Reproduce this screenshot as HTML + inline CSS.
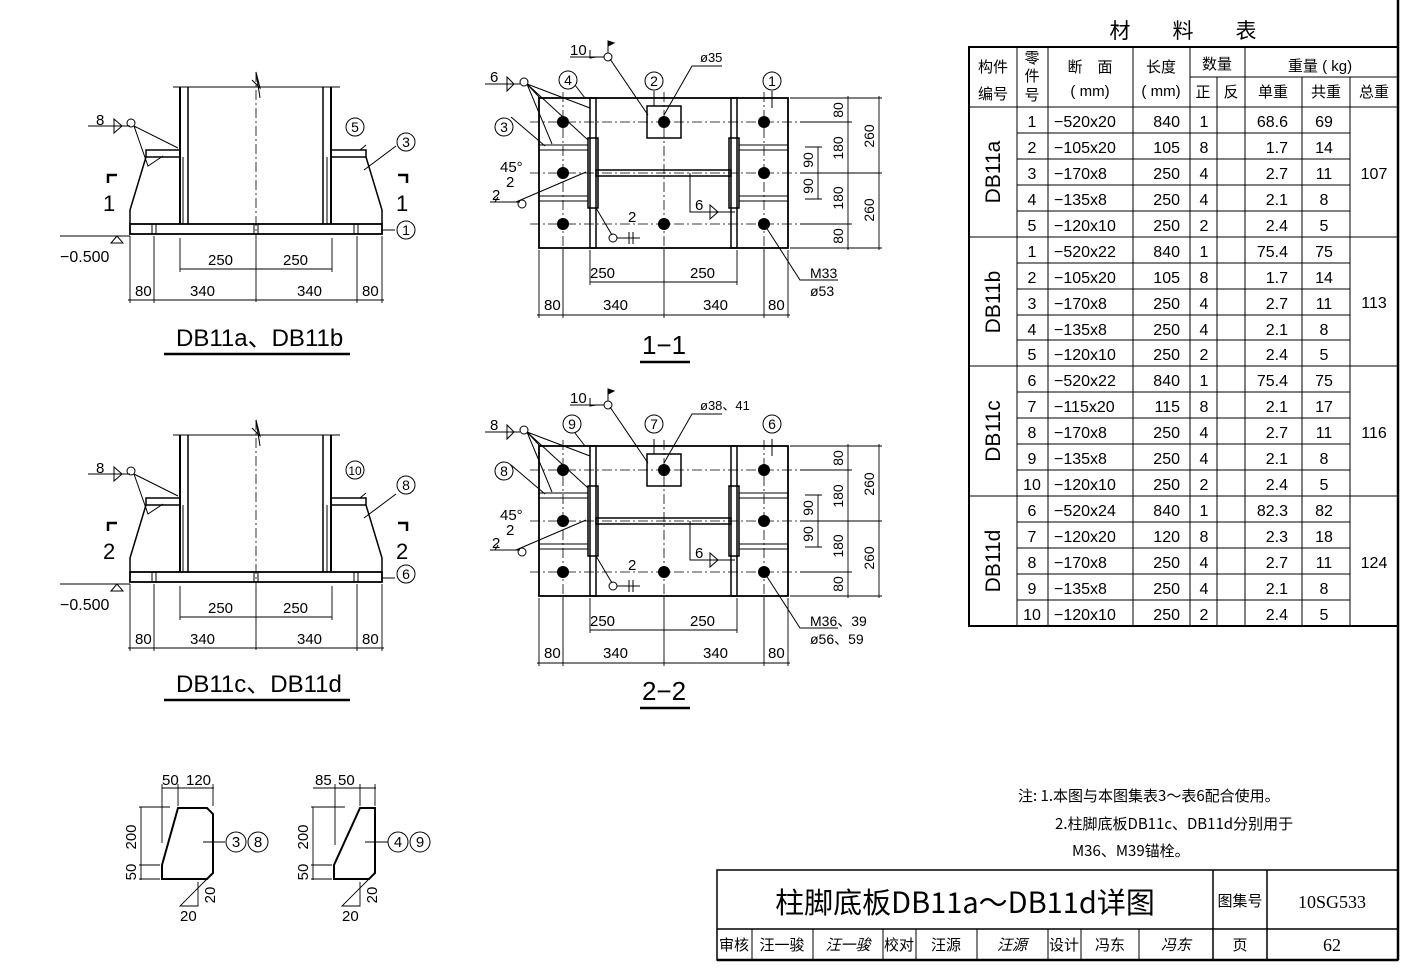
<!DOCTYPE html>
<html><head><meta charset="utf-8"><style>
html,body{margin:0;padding:0;background:#fff}
svg{display:block}
text{font-family:"Liberation Sans","Noto Sans CJK SC",sans-serif;fill:#000}
.c{font-family:"Noto Sans CJK SC","WenQuanYi Zen Hei",sans-serif}
</style></head><body>
<svg width="1407" height="969" viewBox="0 0 1407 969" xmlns="http://www.w3.org/2000/svg">
<defs>
<g id="elev" stroke="#000" fill="none" stroke-width="1.5">
  <!-- column -->
  <line x1="173" y1="87" x2="340" y2="87" stroke-width="1"/>
  <line x1="180" y1="87" x2="180" y2="224" stroke-width="2"/>
  <line x1="188" y1="87" x2="188" y2="224"/>
  <line x1="323" y1="87" x2="323" y2="224"/>
  <line x1="331" y1="87" x2="331" y2="224" stroke-width="2"/>
  <line x1="256" y1="72" x2="256" y2="240" stroke-width="0.8" stroke-dasharray="10,3,2,3"/>
  <path d="M252 80 L260 88 L256 72 L260 98" stroke-width="1"/>
  <!-- stiffeners -->
  <path d="M146 157 L130 210 L130 224"/>
  <path d="M366 157 L382 210 L382 224"/>
  <rect x="146" y="150" width="34" height="7"/>
  <rect x="331" y="150" width="35" height="7"/>
  <line x1="183" y1="157" x2="183" y2="224" stroke-width="1"/>
  <line x1="327" y1="157" x2="327" y2="224" stroke-width="1"/>
  <!-- base plate -->
  <rect x="130" y="224" width="252" height="10" stroke-width="1.8"/>
  <line x1="152" y1="224" x2="152" y2="234" stroke-width="1"/><line x1="156" y1="224" x2="156" y2="234" stroke-width="1"/>
  <line x1="354" y1="224" x2="354" y2="234" stroke-width="1"/><line x1="358" y1="224" x2="358" y2="234" stroke-width="1"/>
  <line x1="254" y1="224" x2="254" y2="234" stroke-width="1"/><line x1="258" y1="224" x2="258" y2="234" stroke-width="1"/>
  <!-- weld leader -->
  <path d="M88 126 L130 126" stroke-width="1"/>
  <path d="M114 119 L114 133 L122 126 Z" stroke-width="1"/>
  <circle cx="131" cy="123" r="4" stroke-width="1"/>
  <path d="M134 126 L178 148 M134 126 L148 166 L163 156" stroke-width="1"/>
  <!-- section marks -->
  <path d="M108 183 L108 175 L117 175" stroke-width="2.5"/>
  <path d="M398 175 L407 175 L407 183" stroke-width="2.5"/>
  <!-- leaders -->
  <line x1="366" y1="145" x2="360" y2="150" stroke-width="1"/>
  <line x1="364" y1="170" x2="396" y2="146" stroke-width="1"/>
  <line x1="382" y1="230" x2="395" y2="230" stroke-width="1"/>
  <!-- elevation -->
  <path d="M60 236 L130 236 M117 236 L111 243 L123 243 Z" stroke-width="1"/>
  <!-- dims -->
  <g stroke-width="0.9">
    <line x1="180" y1="269" x2="332" y2="269"/>
    <line x1="180" y1="238" x2="180" y2="272"/><line x1="332" y1="238" x2="332" y2="272"/>
    <line x1="256" y1="240" x2="256" y2="302"/>
    <line x1="128" y1="300" x2="384" y2="300"/>
    <line x1="130" y1="236" x2="130" y2="303"/><line x1="154" y1="236" x2="154" y2="303"/>
    <line x1="357" y1="236" x2="357" y2="303"/><line x1="382" y1="236" x2="382" y2="303"/>
  </g>
</g>
<g id="plan" stroke="#000" fill="none" stroke-width="1.5">
  <rect x="539" y="98" width="249" height="150" stroke-width="1.8"/>
  <g stroke-width="0.8" stroke-dasharray="10,3,2,3">
    <line x1="530" y1="122" x2="798" y2="122"/><line x1="530" y1="173" x2="798" y2="173"/><line x1="530" y1="224" x2="798" y2="224"/>
    <line x1="563" y1="92" x2="563" y2="254"/><line x1="664" y1="92" x2="664" y2="254"/><line x1="764" y1="92" x2="764" y2="254"/>
  </g>
  <!-- flanges -->
  <rect x="590" y="98" width="6" height="150"/>
  <rect x="731" y="98" width="6" height="150"/>
  <rect x="588" y="138" width="10" height="70"/>
  <rect x="729" y="138" width="10" height="70"/>
  <rect x="596" y="170" width="135" height="6"/>
  <!-- stiffeners -->
  <rect x="539" y="145" width="49" height="5" stroke-width="1"/>
  <rect x="539" y="196" width="49" height="5" stroke-width="1"/>
  <rect x="739" y="145" width="49" height="5" stroke-width="1"/>
  <rect x="739" y="196" width="49" height="5" stroke-width="1"/>
  <rect x="647" y="106" width="34" height="32"/>
  <g fill="#000" stroke="none">
    <circle cx="563" cy="122" r="6"/><circle cx="664" cy="122" r="6"/><circle cx="764" cy="122" r="6"/>
    <circle cx="563" cy="173" r="6"/><circle cx="764" cy="173" r="6"/>
    <circle cx="563" cy="224" r="6"/><circle cx="664" cy="224" r="6"/><circle cx="764" cy="224" r="6"/>
  </g>
  <!-- leaders -->
  <g stroke-width="1">
    <path d="M485 84 L520 84 M507 77 L507 91 L514 84 Z"/>
    <circle cx="524" cy="82" r="4"/>
    <path d="M527 84 L590 108 M527 84 L588 140 M527 84 L552 144 M527 84 L540 98"/>
    <line x1="575" y1="85" x2="585" y2="98"/>
    <line x1="511" y1="117" x2="545" y2="146"/>
    <path d="M490 202 L520 202 M516 202 L586 172"/>
    <path d="M495 202 L498 197"/>
    <circle cx="522" cy="204" r="4"/>
    <path d="M596 208 L612 235"/><circle cx="613" cy="238" r="4"/>
    <path d="M617 238 L640 238 M629 232 L629 244 M633 232 L633 244"/>
    <path d="M690 173 L690 212 L735 212"/>
    <path d="M710 205 L710 219 L718 212 Z"/>
    <path d="M664 115 L692 66 L722 66"/>
    <path d="M610 59 L648 115"/><circle cx="608" cy="57" r="4"/>
    <path d="M570 57 L604 57 M590 50 L590 58 L596 57"/>
    <path d="M608 53 L608 41 L614 43 L608 46" fill="#000"/>
    <line x1="654" y1="91" x2="654" y2="106"/>
    <line x1="772" y1="91" x2="772" y2="108"/>
    <path d="M764 224 L800 280 L838 280"/>
  </g>
  <!-- dims -->
  <g stroke-width="0.9">
    <line x1="590" y1="282" x2="737" y2="282"/>
    <line x1="590" y1="250" x2="590" y2="285"/><line x1="737" y1="250" x2="737" y2="285"/>
    <line x1="537" y1="315" x2="790" y2="315"/>
    <line x1="539" y1="250" x2="539" y2="318"/><line x1="563" y1="250" x2="563" y2="318"/>
    <line x1="664" y1="250" x2="664" y2="318"/><line x1="764" y1="250" x2="764" y2="318"/><line x1="788" y1="250" x2="788" y2="318"/>
    <line x1="848" y1="96" x2="848" y2="250"/>
    <line x1="879" y1="96" x2="879" y2="250"/>
    <line x1="818" y1="147" x2="818" y2="199"/>
    <line x1="790" y1="98" x2="882" y2="98"/><line x1="800" y1="122" x2="852" y2="122"/>
    <line x1="800" y1="173" x2="882" y2="173"/><line x1="800" y1="224" x2="852" y2="224"/>
    <line x1="790" y1="248" x2="882" y2="248"/>
    <line x1="805" y1="147" x2="822" y2="147"/><line x1="805" y1="199" x2="822" y2="199"/>
  </g>
</g>
</defs>

<!-- frame -->
<line x1="1398" y1="0" x2="1398" y2="960" stroke="#000" stroke-width="2.5"/>
<line x1="717" y1="960" x2="1398" y2="960" stroke="#000" stroke-width="2.5"/>

<!-- elevations -->
<use href="#elev"/>
<use href="#elev" transform="translate(0,348)"/>
<g font-size="15">
<text x="96" y="125">8</text><text x="96" y="473">8</text>
<text x="60" y="262" font-size="16">−0.500</text><text x="60" y="610" font-size="16">−0.500</text>
<text x="103" y="211" font-size="22">1</text><text x="396" y="211" font-size="22">1</text>
<text x="103" y="559" font-size="22">2</text><text x="396" y="559" font-size="22">2</text>
<text x="208" y="265">250</text><text x="283" y="265">250</text>
<text x="135" y="296">80</text><text x="190" y="296">340</text><text x="297" y="296">340</text><text x="362" y="296">80</text>
<text x="208" y="613">250</text><text x="283" y="613">250</text>
<text x="135" y="644">80</text><text x="190" y="644">340</text><text x="297" y="644">340</text><text x="362" y="644">80</text>
</g>
<g fill="none" stroke="#000" stroke-width="1">
<circle cx="355" cy="127" r="9"/><circle cx="406" cy="142" r="9"/><circle cx="406" cy="230" r="9"/>
<circle cx="355" cy="470" r="9"/><circle cx="406" cy="485" r="9"/><circle cx="406" cy="574" r="9"/>
</g>
<g font-size="14" text-anchor="middle">
<text x="355" y="132">5</text><text x="406" y="147">3</text><text x="406" y="235">1</text>
<text x="355" y="475" font-size="12">10</text><text x="406" y="490">8</text><text x="406" y="579">6</text>
</g>
<text x="176" y="346" font-size="24">DB11a、DB11b</text>
<line x1="164" y1="354" x2="350" y2="354" stroke="#000" stroke-width="2.5"/>
<text x="176" y="692" font-size="24">DB11c、DB11d</text>
<line x1="164" y1="700" x2="350" y2="700" stroke="#000" stroke-width="2.5"/>

<!-- plans -->
<use href="#plan"/>
<use href="#plan" transform="translate(0,348)"/>
<g fill="none" stroke="#000" stroke-width="1">
<circle cx="568" cy="80" r="9"/><circle cx="654" cy="81" r="9"/><circle cx="772" cy="81" r="9"/><circle cx="504" cy="127" r="9"/>
<circle cx="572" cy="424" r="9"/><circle cx="654" cy="424" r="9"/><circle cx="772" cy="424" r="9"/><circle cx="504" cy="471" r="9"/>
</g>
<g font-size="14" text-anchor="middle">
<text x="568" y="85">4</text><text x="654" y="86">2</text><text x="772" y="86">1</text><text x="504" y="132">3</text>
<text x="572" y="429">9</text><text x="654" y="429">7</text><text x="772" y="429">6</text><text x="504" y="476">8</text>
</g>
<g font-size="15">
<text x="490" y="82">6</text><text x="570" y="55">10</text><text x="700" y="62" font-size="13">ø35</text>
<text x="500" y="172">45°</text><text x="506" y="187">2</text><text x="492" y="200">2</text>
<text x="628" y="222">2</text><text x="695" y="210">6</text>
<text x="590" y="278">250</text><text x="690" y="278">250</text>
<text x="544" y="310">80</text><text x="603" y="310">340</text><text x="703" y="310">340</text><text x="768" y="310">80</text>
<text x="810" y="278" font-size="14">M33</text><text x="810" y="296" font-size="14">ø53</text>

<text x="490" y="430">8</text><text x="570" y="403">10</text><text x="700" y="410" font-size="13">ø38、41</text>
<text x="500" y="520">45°</text><text x="506" y="535">2</text><text x="492" y="548">2</text>
<text x="628" y="570">2</text><text x="695" y="558">6</text>
<text x="590" y="626">250</text><text x="690" y="626">250</text>
<text x="544" y="658">80</text><text x="603" y="658">340</text><text x="703" y="658">340</text><text x="768" y="658">80</text>
<text x="810" y="626" font-size="14">M36、39</text><text x="810" y="644" font-size="14">ø56、59</text>
</g>
<g font-size="14" text-anchor="middle">
<g transform="translate(843,110) rotate(-90)"><text>80</text></g>
<g transform="translate(843,148) rotate(-90)"><text>180</text></g>
<g transform="translate(843,198) rotate(-90)"><text>180</text></g>
<g transform="translate(843,236) rotate(-90)"><text>80</text></g>
<g transform="translate(874,136) rotate(-90)"><text>260</text></g>
<g transform="translate(874,210) rotate(-90)"><text>260</text></g>
<g transform="translate(813,160) rotate(-90)"><text>90</text></g>
<g transform="translate(813,186) rotate(-90)"><text>90</text></g>
<g transform="translate(843,458) rotate(-90)"><text>80</text></g>
<g transform="translate(843,496) rotate(-90)"><text>180</text></g>
<g transform="translate(843,546) rotate(-90)"><text>180</text></g>
<g transform="translate(843,584) rotate(-90)"><text>80</text></g>
<g transform="translate(874,484) rotate(-90)"><text>260</text></g>
<g transform="translate(874,558) rotate(-90)"><text>260</text></g>
<g transform="translate(813,508) rotate(-90)"><text>90</text></g>
<g transform="translate(813,534) rotate(-90)"><text>90</text></g>
</g>
<text x="664" y="354" font-size="26" text-anchor="middle">1−1</text>
<line x1="640" y1="362" x2="690" y2="362" stroke="#000" stroke-width="2.5"/>
<text x="664" y="700" font-size="26" text-anchor="middle">2−2</text>
<line x1="640" y1="708" x2="690" y2="708" stroke="#000" stroke-width="2.5"/>

<!-- small details -->
<g fill="none" stroke="#000">
<path d="M178 808 L207 808 L213 814 L213 873 L207 879 L162 879 L162 865 Z" stroke-width="2"/>
<path d="M360 808 L375 808 L375 873 L369 879 L334 879 L334 865 Z" stroke-width="2"/>
<g stroke-width="0.9">
<line x1="162" y1="788" x2="214" y2="788"/><line x1="162" y1="784" x2="162" y2="843"/><line x1="178" y1="784" x2="178" y2="806"/><line x1="213" y1="784" x2="213" y2="806"/>
<line x1="141" y1="807" x2="141" y2="880"/><line x1="139" y1="807" x2="170" y2="807"/><line x1="139" y1="865" x2="160" y2="865"/><line x1="139" y1="879" x2="160" y2="879"/>
<path d="M207 879 L180 906 L198 906 L198 882"/>
<line x1="203" y1="842" x2="225" y2="842"/>
<line x1="313" y1="788" x2="376" y2="788"/><line x1="335" y1="784" x2="335" y2="845"/><line x1="360" y1="784" x2="360" y2="806"/><line x1="375" y1="784" x2="375" y2="806"/>
<line x1="313" y1="807" x2="313" y2="880"/><line x1="311" y1="807" x2="345" y2="807"/><line x1="311" y1="865" x2="332" y2="865"/><line x1="311" y1="879" x2="332" y2="879"/>
<path d="M369 879 L342 906 L360 906 L360 882"/>
<line x1="365" y1="842" x2="388" y2="842"/>
</g>
<g stroke-width="1"><circle cx="236" cy="842" r="10"/><circle cx="258" cy="842" r="10"/><circle cx="398" cy="842" r="10"/><circle cx="420" cy="842" r="10"/></g>
</g>
<g font-size="15">
<text x="162" y="785">50</text><text x="186" y="785">120</text>
<text x="315" y="785">85</text><text x="338" y="785">50</text>
<text x="180" y="921">20</text><text x="342" y="921">20</text>
<text x="236" y="847" text-anchor="middle">3</text><text x="258" y="847" text-anchor="middle">8</text>
<text x="398" y="847" text-anchor="middle">4</text><text x="420" y="847" text-anchor="middle">9</text>
<g transform="translate(136,837) rotate(-90)"><text text-anchor="middle">200</text></g>
<g transform="translate(136,872) rotate(-90)"><text text-anchor="middle">50</text></g>
<g transform="translate(308,837) rotate(-90)"><text text-anchor="middle">200</text></g>
<g transform="translate(308,872) rotate(-90)"><text text-anchor="middle">50</text></g>
<g transform="translate(215,895) rotate(-90)"><text text-anchor="middle">20</text></g>
<g transform="translate(377,895) rotate(-90)"><text text-anchor="middle">20</text></g>
</g>

<!-- notes -->
<g class="c" font-size="15">
<text x="1018" y="801" class="c">注: 1.本图与本图集表3～表6配合使用。</text>
<text x="1055" y="829" class="c">2.柱脚底板DB11c、DB11d分别用于</text>
<text x="1072" y="856" class="c">M36、M39锚栓。</text>
</g>

<!-- material table -->
<text x="1183" y="38" class="c" font-size="21" text-anchor="middle">材　　料　　表</text>
<g stroke="#000" fill="none">
<rect x="969" y="47" width="429" height="579" stroke-width="2"/>
<g stroke-width="1">
<line x1="1017" y1="47" x2="1017" y2="626"/><line x1="1048" y1="47" x2="1048" y2="626"/>
<line x1="1133" y1="47" x2="1133" y2="626"/><line x1="1190" y1="47" x2="1190" y2="626"/>
<line x1="1217" y1="77" x2="1217" y2="626"/><line x1="1245" y1="47" x2="1245" y2="626"/>
<line x1="1302" y1="77" x2="1302" y2="626"/><line x1="1350" y1="77" x2="1350" y2="626"/>
<line x1="1190" y1="77" x2="1398" y2="77"/>
<line x1="969" y1="107" x2="1398" y2="107"/>
<line x1="969" y1="237" x2="1398" y2="237"/><line x1="969" y1="366" x2="1398" y2="366"/><line x1="969" y1="496" x2="1398" y2="496"/>
<path d="M1017 133H1350M1017 159H1350M1017 185H1350M1017 211H1350 M1017 263H1350M1017 289H1350M1017 315H1350M1017 340H1350 M1017 392H1350M1017 418H1350M1017 444H1350M1017 470H1350 M1017 522H1350M1017 548H1350M1017 574H1350M1017 600H1350"/>
</g>
</g>
<g class="c" font-size="15" text-anchor="middle">
<text x="993" y="72">构件</text><text x="993" y="99">编号</text>
<text x="1032" y="63">零</text><text x="1032" y="81">件</text><text x="1032" y="100">号</text>
<text x="1090" y="72">断　面</text><text x="1090" y="96">( mm)</text>
<text x="1161" y="72">长度</text><text x="1161" y="96">( mm)</text>
<text x="1217" y="69">数量</text><text x="1203" y="97">正</text><text x="1231" y="97">反</text>
<text x="1320" y="71">重量 ( kg)</text>
<text x="1273" y="97">单重</text><text x="1326" y="97">共重</text><text x="1374" y="97">总重</text>
</g>
<g font-size="21">
<g transform="translate(1000,172) rotate(-90)"><text text-anchor="middle">DB11a</text></g>
<g transform="translate(1000,302) rotate(-90)"><text text-anchor="middle">DB11b</text></g>
<g transform="translate(1000,431) rotate(-90)"><text text-anchor="middle">DB11c</text></g>
<g transform="translate(1000,561) rotate(-90)"><text text-anchor="middle">DB11d</text></g>
</g>
<g font-size="16">
<g text-anchor="middle">
<text x="1032" y="127">1</text><text x="1032" y="153">2</text><text x="1032" y="179">3</text><text x="1032" y="205">4</text><text x="1032" y="231">5</text>
<text x="1032" y="257">1</text><text x="1032" y="283">2</text><text x="1032" y="309">3</text><text x="1032" y="335">4</text><text x="1032" y="360">5</text>
<text x="1032" y="386">6</text><text x="1032" y="412">7</text><text x="1032" y="438">8</text><text x="1032" y="464">9</text><text x="1032" y="490">10</text>
<text x="1032" y="516">6</text><text x="1032" y="542">7</text><text x="1032" y="568">8</text><text x="1032" y="594">9</text><text x="1032" y="620">10</text>
<text x="1204" y="127">1</text><text x="1204" y="153">8</text><text x="1204" y="179">4</text><text x="1204" y="205">4</text><text x="1204" y="231">2</text>
<text x="1204" y="257">1</text><text x="1204" y="283">8</text><text x="1204" y="309">4</text><text x="1204" y="335">4</text><text x="1204" y="360">2</text>
<text x="1204" y="386">1</text><text x="1204" y="412">8</text><text x="1204" y="438">4</text><text x="1204" y="464">4</text><text x="1204" y="490">2</text>
<text x="1204" y="516">1</text><text x="1204" y="542">8</text><text x="1204" y="568">4</text><text x="1204" y="594">4</text><text x="1204" y="620">2</text>
<text x="1324" y="127">69</text><text x="1324" y="153">14</text><text x="1324" y="179">11</text><text x="1324" y="205">8</text><text x="1324" y="231">5</text>
<text x="1324" y="257">75</text><text x="1324" y="283">14</text><text x="1324" y="309">11</text><text x="1324" y="335">8</text><text x="1324" y="360">5</text>
<text x="1324" y="386">75</text><text x="1324" y="412">17</text><text x="1324" y="438">11</text><text x="1324" y="464">8</text><text x="1324" y="490">5</text>
<text x="1324" y="516">82</text><text x="1324" y="542">18</text><text x="1324" y="568">11</text><text x="1324" y="594">8</text><text x="1324" y="620">5</text>
<text x="1374" y="179">107</text><text x="1374" y="308">113</text><text x="1374" y="438">116</text><text x="1374" y="568">124</text>
</g>
<g>
<text x="1054" y="127">−520x20</text><text x="1054" y="153">−105x20</text><text x="1054" y="179">−170x8</text><text x="1054" y="205">−135x8</text><text x="1054" y="231">−120x10</text>
<text x="1054" y="257">−520x22</text><text x="1054" y="283">−105x20</text><text x="1054" y="309">−170x8</text><text x="1054" y="335">−135x8</text><text x="1054" y="360">−120x10</text>
<text x="1054" y="386">−520x22</text><text x="1054" y="412">−115x20</text><text x="1054" y="438">−170x8</text><text x="1054" y="464">−135x8</text><text x="1054" y="490">−120x10</text>
<text x="1054" y="516">−520x24</text><text x="1054" y="542">−120x20</text><text x="1054" y="568">−170x8</text><text x="1054" y="594">−135x8</text><text x="1054" y="620">−120x10</text>
</g>
<g text-anchor="end">
<text x="1180" y="127">840</text><text x="1180" y="153">105</text><text x="1180" y="179">250</text><text x="1180" y="205">250</text><text x="1180" y="231">250</text>
<text x="1180" y="257">840</text><text x="1180" y="283">105</text><text x="1180" y="309">250</text><text x="1180" y="335">250</text><text x="1180" y="360">250</text>
<text x="1180" y="386">840</text><text x="1180" y="412">115</text><text x="1180" y="438">250</text><text x="1180" y="464">250</text><text x="1180" y="490">250</text>
<text x="1180" y="516">840</text><text x="1180" y="542">120</text><text x="1180" y="568">250</text><text x="1180" y="594">250</text><text x="1180" y="620">250</text>
<text x="1288" y="127">68.6</text><text x="1288" y="153">1.7</text><text x="1288" y="179">2.7</text><text x="1288" y="205">2.1</text><text x="1288" y="231">2.4</text>
<text x="1288" y="257">75.4</text><text x="1288" y="283">1.7</text><text x="1288" y="309">2.7</text><text x="1288" y="335">2.1</text><text x="1288" y="360">2.4</text>
<text x="1288" y="386">75.4</text><text x="1288" y="412">2.1</text><text x="1288" y="438">2.7</text><text x="1288" y="464">2.1</text><text x="1288" y="490">2.4</text>
<text x="1288" y="516">82.3</text><text x="1288" y="542">2.3</text><text x="1288" y="568">2.7</text><text x="1288" y="594">2.1</text><text x="1288" y="620">2.4</text>
</g>
</g>

<!-- title block -->
<g stroke="#000" fill="none" stroke-width="1.5">
<rect x="717" y="870" width="681" height="90"/>
<line x1="717" y1="929" x2="1398" y2="929"/>
<line x1="1213" y1="870" x2="1213" y2="960"/><line x1="1267" y1="870" x2="1267" y2="960"/>
<g stroke-width="1">
<line x1="752" y1="929" x2="752" y2="960"/><line x1="813" y1="929" x2="813" y2="960"/><line x1="883" y1="929" x2="883" y2="960"/>
<line x1="916" y1="929" x2="916" y2="960"/><line x1="977" y1="929" x2="977" y2="960"/><line x1="1048" y1="929" x2="1048" y2="960"/>
<line x1="1081" y1="929" x2="1081" y2="960"/><line x1="1139" y1="929" x2="1139" y2="960"/>
</g>
</g>
<text x="965" y="913" class="c" font-size="29" text-anchor="middle">柱脚底板DB11a～DB11d详图</text>
<text x="1240" y="906" class="c" font-size="15" text-anchor="middle">图集号</text>
<text x="1332" y="908" font-family="Liberation Serif" font-size="18" text-anchor="middle" style="font-family:'Liberation Serif',serif">10SG533</text>
<g class="c" font-size="15" text-anchor="middle">
<text x="734" y="950">审核</text><text x="782" y="950">汪一骏</text><text x="848" y="950" font-style="italic">汪一骏</text>
<text x="899" y="950">校对</text><text x="946" y="950">汪源</text><text x="1012" y="950" font-style="italic">汪源</text>
<text x="1064" y="950">设计</text><text x="1110" y="950">冯东</text><text x="1176" y="950" font-style="italic">冯东</text>
<text x="1240" y="950">页</text>
</g>
<text x="1332" y="951" font-size="18" text-anchor="middle" style="font-family:'Liberation Serif',serif">62</text>
</svg>
</body></html>
